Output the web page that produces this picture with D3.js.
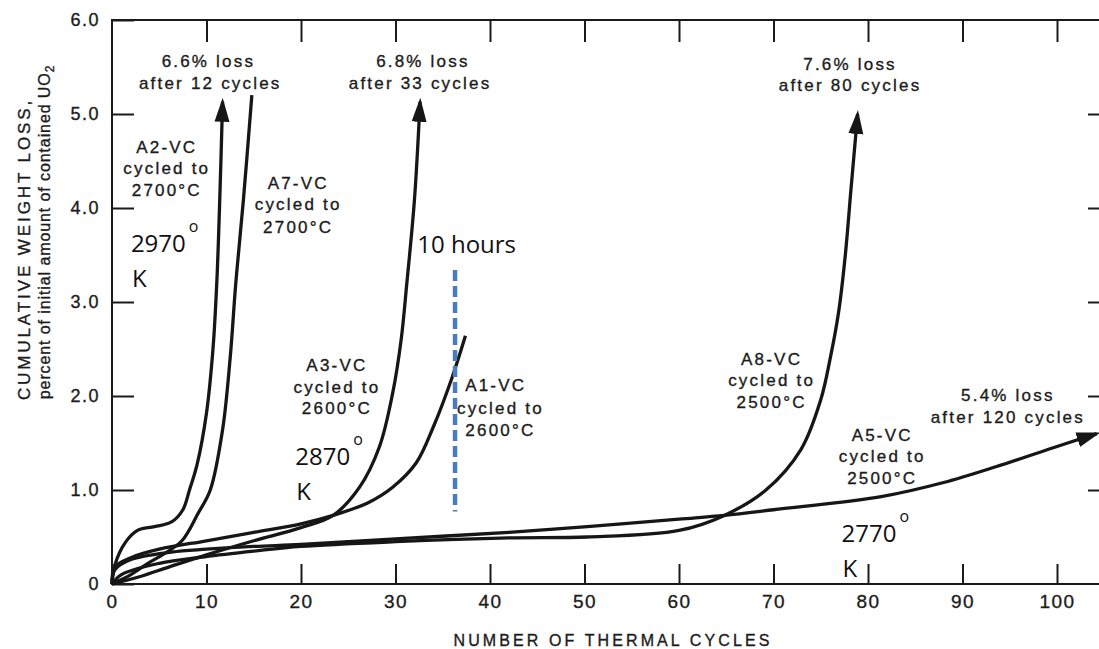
<!DOCTYPE html>
<html>
<head>
<meta charset="utf-8">
<script src="https://cdn.jsdelivr.net/npm/d3@7"></script>
<style>
  body { margin: 0; background: #fff; }
  text { font-family: "Liberation Sans", Arial, sans-serif; fill: #1c1c1c; }
  .ink { stroke: #1c1c1c; stroke-width: 0.35px; }
  .hand { font-family: "Open Sans", sans-serif; fill: #111; }
</style>
</head>
<body>
<svg id="chart" width="1099" height="649"></svg>
<script>
// tick values
const xTicks = [0, 10, 20, 30, 40, 50, 60, 70, 80, 90, 100]
const yTicks = [0, 1, 2, 3, 4, 5, 6]

// [cycles, cumulative weight loss %]
const a2 = [[0, 0], [0.3, 0.2], [1.4, 0.44], [2.7, 0.57], [4.5, 0.61], [6.3, 0.66], [7.5, 0.79], [8.2, 1.0], [9, 1.27], [10, 1.82], [10.7, 2.52], [11.1, 3.23], [11.4, 4.08], [11.7, 5.13]]
const a7 = [[0, 0], [2, 0.1], [3.8, 0.22], [5.5, 0.32], [7.4, 0.46], [9.1, 0.75], [10.4, 1.0], [11.7, 1.64], [12.5, 2.4], [13.1, 3.2], [13.9, 4.08], [14.8, 5.2]]
const a3 = [[0, 0], [3, 0.08], [6, 0.18], [10, 0.31], [15, 0.46], [20, 0.6], [23.4, 0.73], [26.2, 1.03], [28.3, 1.46], [29.7, 2.03], [30.6, 2.6], [31.2, 3.2], [32, 4.08], [32.6, 5.13]]
const a1 = [[0, 0], [0.3, 0.18], [2, 0.28], [5, 0.37], [10, 0.46], [15, 0.55], [20, 0.64], [23.4, 0.73], [27, 0.86], [29.7, 1.03], [32.2, 1.29], [34, 1.67], [36, 2.2], [37.4, 2.64]]
const a8 = [[0, 0], [1, 0.1], [5, 0.22], [9.8, 0.29], [15, 0.35], [20, 0.4], [30, 0.45], [42, 0.49], [50.3, 0.5], [60, 0.57], [64.8, 0.73], [69.2, 1.0], [72.9, 1.43], [75, 1.96], [76, 2.4], [76.9, 2.9], [77.6, 3.5], [78.2, 4.2], [78.9, 5.0]]
const a5 = [[0, 0], [0.3, 0.15], [2, 0.26], [6.3, 0.34], [10, 0.37], [15, 0.4], [20, 0.42], [30, 0.48], [42, 0.55], [50.3, 0.61], [60, 0.69], [64.8, 0.73], [70, 0.79], [81.4, 0.93], [88, 1.08], [93.6, 1.25], [99.6, 1.45], [104.2, 1.6]]

// printed notes: [text, cycles, loss] (centre of line)
const notes = [
  ['6.6% loss', 10.2, 5.56], ['after 12 cycles', 10.4, 5.33],
  ['6.8% loss', 32.9, 5.56], ['after 33 cycles', 32.6, 5.33],
  ['7.6% loss', 78.1, 5.53], ['after 80 cycles', 78.1, 5.31],
  ['5.4% loss', 94.8, 2.01], ['after 120 cycles', 94.8, 1.78],
  ['A2-VC', 5.8, 4.65], ['cycled to', 5.8, 4.43], ['2700°C', 5.8, 4.19],
  ['A7-VC', 19.7, 4.27], ['cycled to', 19.7, 4.04], ['2700°C', 19.7, 3.8],
  ['A3-VC', 23.8, 2.33], ['cycled to', 23.8, 2.1], ['2600°C', 23.8, 1.87],
  ['A1-VC', 40.6, 2.12], ['cycled to', 41.1, 1.87], ['2600°C', 41.1, 1.64],
  ['A8-VC', 69.8, 2.4], ['cycled to', 69.8, 2.17], ['2500°C', 69.8, 1.94],
  ['A5-VC', 81.5, 1.59], ['cycled to', 81.5, 1.36], ['2500°C', 81.5, 1.13]
]

// hand-added kelvin notes: [value, cycles, loss] (left / baseline)
const kelvin = [['2970', 2.0, 3.53], ['2870', 19.4, 1.27], ['2770', 77.2, 0.45]]
const tenHours = 36.3
const tenHoursSpan = [0.77, 3.34]

const svg = d3.select('#chart')

const x = d3.scaleLinear().domain([0, 100]).range([112, 1057])
const y = d3.scaleLinear().domain([0, 6]).range([584, 20])

// frame
svg.append('rect')
  .attr('x', x(0))
  .attr('y', y(6))
  .attr('width', 1100 - x(0))
  .attr('height', y(0) - y(6))
  .attr('fill', 'none')
  .attr('stroke', '#1a1a1a')
  .attr('stroke-width', 2)

const styleAxis = (g, size, spacing) => {
  g.select('.domain').remove()
  g.selectAll('.tick line').attr('stroke', '#1a1a1a').attr('stroke-width', 2)
  g.selectAll('.tick text')
    .attr('class', 'ink')
    .style('font-family', '"Liberation Sans", Arial, sans-serif')
    .style('font-size', size + 'px')
    .style('letter-spacing', spacing + 'px')
    .attr('fill', '#1c1c1c')
}

svg.append('g')
  .attr('transform', `translate(0, ${y(0)})`)
  .call(d3.axisBottom(x).tickValues(xTicks).tickSizeInner(-20).tickSizeOuter(0).tickPadding(11))
  .call((g) => styleAxis(g, 19, 1.5))

svg.append('g')
  .attr('transform', `translate(0, ${y(6)})`)
  .call(d3.axisTop(x).tickValues(xTicks.slice(1)).tickSizeInner(-22).tickSizeOuter(0).tickFormat(''))
  .call((g) => styleAxis(g, 10, 0))

svg.append('g')
  .attr('transform', `translate(${x(0)}, 0)`)
  .call(d3.axisLeft(y).tickValues(yTicks).tickSizeInner(-22).tickSizeOuter(0).tickPadding(12)
    .tickFormat((d) => (d === 0 ? '0' : d.toFixed(1))))
  .call((g) => styleAxis(g, 18, 1.5))

svg.append('g')
  .attr('transform', 'translate(1100, 0)')
  .call(d3.axisRight(y).tickValues(yTicks.slice(1, 6)).tickSizeInner(-12).tickSizeOuter(0).tickFormat(''))
  .call((g) => styleAxis(g, 10, 0))

// axis titles
svg.append('text')
  .attr('class', 'ink')
  .attr('x', 613)
  .attr('y', 646)
  .attr('text-anchor', 'middle')
  .style('font-size', '16px')
  .style('letter-spacing', '3.1px')
  .text('NUMBER OF THERMAL CYCLES')

svg.append('text')
  .attr('class', 'ink')
  .attr('transform', 'translate(30, 249) rotate(-90)')
  .attr('text-anchor', 'middle')
  .style('font-size', '17px')
  .style('letter-spacing', '2.9px')
  .text('CUMULATIVE WEIGHT LOSS,')

const sub = svg.append('text')
  .attr('class', 'ink')
  .attr('transform', 'translate(50, 232) rotate(-90)')
  .attr('text-anchor', 'middle')
  .style('font-size', '16px')
  .style('letter-spacing', '0.9px')
sub.append('tspan').text('percent of initial amount of contained UO')
sub.append('tspan').attr('dy', 4).style('font-size', '12px').text('2')

// arrow head
svg.append('defs')
  .append('marker')
  .attr('id', 'head')
  .attr('markerUnits', 'userSpaceOnUse')
  .attr('viewBox', '0 -8 24 16')
  .attr('markerWidth', 24)
  .attr('markerHeight', 16)
  .attr('refX', 20)
  .attr('refY', 0)
  .attr('orient', 'auto')
  .append('path')
  .attr('d', 'M0,-7.5L24,0L0,7.5Z')
  .attr('fill', '#161616')

const line = d3
  .line()
  .x((d) => x(d[0]))
  .y((d) => y(d[1]))
  .curve(d3.curveCatmullRom.alpha(0.5))

const series = [
  { pts: a2, arrow: true },
  { pts: a7, arrow: false },
  { pts: a3, arrow: true },
  { pts: a1, arrow: false },
  { pts: a8, arrow: true },
  { pts: a5, arrow: true }
]

series.forEach((s) => {
  svg.append('path')
    .datum(s.pts)
    .attr('d', line)
    .attr('fill', 'none')
    .attr('stroke', '#161616')
    .attr('stroke-width', 3.3)
    .attr('stroke-linecap', 'butt')
    .attr('marker-end', s.arrow ? 'url(#head)' : null)
})

// printed labels
svg.selectAll('.note')
  .data(notes)
  .enter()
  .append('text')
  .attr('class', 'note ink')
  .attr('x', (d) => x(d[1]))
  .attr('y', (d) => y(d[2]))
  .attr('dy', '0.36em')
  .attr('text-anchor', 'middle')
  .style('font-size', '17px')
  .style('letter-spacing', '2.2px')
  .text((d) => d[0])

// 10 hours marker
svg.append('line')
  .attr('x1', x(tenHours))
  .attr('x2', x(tenHours))
  .attr('y1', y(tenHoursSpan[1]))
  .attr('y2', y(tenHoursSpan[0]))
  .attr('stroke', '#4a7ebb')
  .attr('stroke-width', 4.5)
  .attr('stroke-dasharray', '11,5')

svg.append('text')
  .attr('class', 'hand')
  .attr('x', x(32.3))
  .attr('y', y(3.52))
  .style('font-size', '24px')
  .text('10 hours')

// kelvin notes
kelvin.forEach((k) => {
  const t = svg.append('text')
    .attr('class', 'hand')
    .attr('x', x(k[1]))
    .attr('y', y(k[2]))
    .style('font-size', '24px')
  t.append('tspan').text(k[0])
  t.append('tspan').attr('dx', 3).attr('dy', -20).style('font-size', '16px').text('o')
  svg.append('text')
    .attr('class', 'hand')
    .attr('x', x(k[1]) + 1)
    .attr('y', y(k[2]) + 35)
    .style('font-size', '24px')
    .text('K')
})
</script>
</body>
</html>
